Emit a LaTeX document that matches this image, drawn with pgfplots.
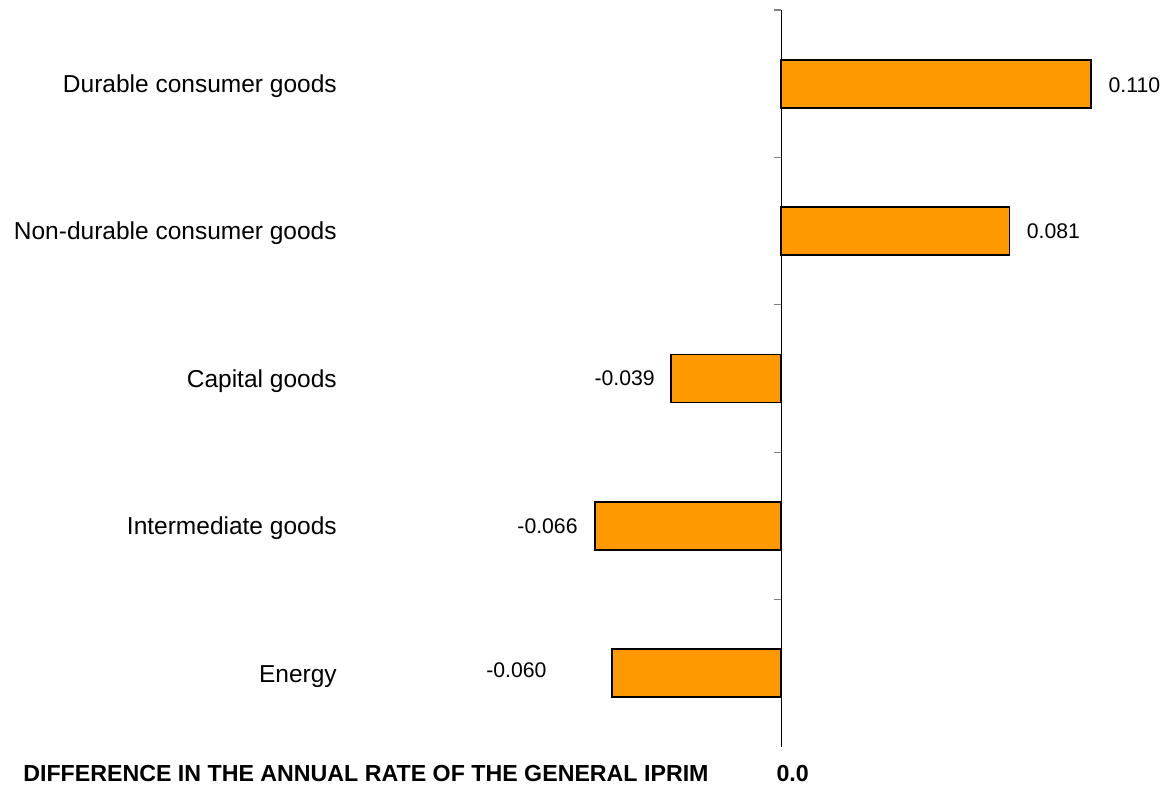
\documentclass[border=0pt]{standalone}
\usepackage{pgfplots}
\pgfplotsset{compat=1.18}
\usepackage{fontspec}
\setmainfont{Liberation Sans}
\definecolor{barorange}{RGB}{255,153,0}
\begin{document}
\begin{tikzpicture}
\path[use as bounding box] (0,0) rectangle (583.5pt,392.5pt);
\begin{axis}[
  at={(172pt,19pt)}, anchor=south west,
  scale only axis, width=408.9pt, height=368.5pt,
  xmin=-0.155, xmax=0.135, ymin=0.5, ymax=5.5,
  axis y line=middle,
  axis x line*=bottom,
  x axis line style={draw=none},
  y axis line style={-, draw=black, line width=0.6pt},
  ytick={0.5,1.5,2.5,3.5,4.5,5.5},
  yticklabels={},
  ytick style={draw=gray, line width=0.6pt},
  tick align=outside,
  major tick length=3.5pt,
  extra y ticks={1,2,3,4,5},
  extra y tick labels={Energy, Intermediate goods, Capital goods, Non-durable consumer goods, Durable consumer goods},
  extra y tick style={major tick length=0pt, tick style={draw=none},
     yticklabel style={anchor=base east, inner sep=0pt, xshift=-222pt, yshift=-4.4pt, font=\fontsize{12.25}{14}\selectfont}},
  xtick={0},
  xticklabels={\textbf{0.0}},
  xtick style={draw=none},
  xticklabel style={anchor=west, inner sep=0pt, xshift=-2.5pt, yshift=-10pt, font=\fontsize{11.6}{14}\selectfont},
  xlabel={\textbf{DIFFERENCE IN THE ANNUAL RATE OF THE GENERAL IPRIM}},
  xlabel style={at={(axis description cs:0.4463,-0.0362)}, anchor=east, inner sep=0pt, font=\fontsize{11.6}{14}\selectfont},
  clip=false,
]
\addplot[xbar, fill=barorange, draw=black, line width=0.9pt, bar width=0.326]
  coordinates {(-0.060,1) (-0.066,2) (-0.039,3) (0.081,4) (0.110,5)};
\begin{scope}[every node/.style={inner sep=0pt, font=\fontsize{10.6}{12}\selectfont}]
\node[anchor=west, xshift=8.5pt, yshift=-0.7pt] at (axis cs:0.110,5) {0.110};
\node[anchor=west, xshift=8.5pt] at (axis cs:0.081,4) {0.081};
\node[anchor=east, xshift=-8pt] at (axis cs:-0.039,3) {-0.039};
\node[anchor=east, xshift=-8.5pt] at (axis cs:-0.066,2) {-0.066};
\node[anchor=east, xshift=-32.5pt, yshift=1.5pt] at (axis cs:-0.060,1) {-0.060};
\end{scope}
\end{axis}
\end{tikzpicture}
\end{document}
